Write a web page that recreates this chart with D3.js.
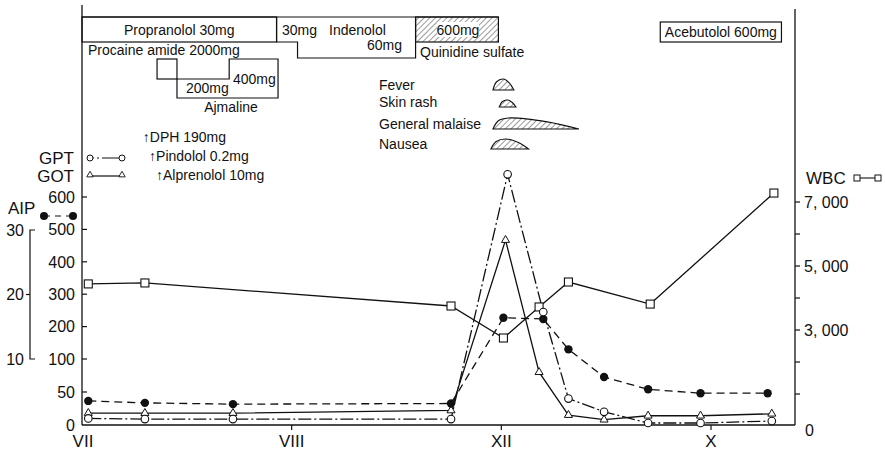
<!DOCTYPE html>
<html>
<head>
<meta charset="utf-8">
<script src="https://cdn.jsdelivr.net/npm/d3@7"></script>
<style>
    html, body { margin: 0; padding: 0; background: #fff; }
    #chart { width: 885px; height: 454px; }
    text { font-family: "Liberation Sans", Arial, sans-serif; fill: #111; }
    .num { font-family: "Liberation Sans Narrow", "Liberation Sans", Arial, sans-serif; }
</style>
</head>
<body>
<div id="chart"></div>
<script>
// x values are month positions: 0 = VII, 1 = VIII, 2 = XII, 3 = X
const monthLabels = ["VII", "VIII", "XII", "X"]
const leftTicks = [0, 50, 100, 200, 300, 400, 500, 600]
const aipTicks = [10, 20, 30]
const wbcTicks = [1000, 2000, 3000, 4000, 5000, 6000, 7000]
const wbcLabels = [[3000, "3, 000"], [5000, "5, 000"], [7000, "7, 000"]]

const gpt = [[0.03, 10], [0.30, 9], [0.72, 9], [1.76, 9], [2.03, 670], [2.20, 245],
             [2.32, 40], [2.49, 20], [2.70, 3], [2.95, 3], [3.29, 6]]
const got = [[0.03, 18], [0.30, 18], [0.72, 18], [1.76, 22], [2.02, 467], [2.18, 80],
             [2.32, 15], [2.49, 8], [2.70, 14], [2.95, 14], [3.29, 17]]
const aip = [[0.03, 3.5], [0.30, 3.2], [0.72, 3.0], [1.76, 3.1], [2.01, 16.4], [2.20, 16.2],
             [2.32, 11.5], [2.49, 7.2], [2.70, 5.3], [2.95, 4.7], [3.27, 4.7]]
const wbc = [[0.03, 4440], [0.30, 4470], [1.76, 3750], [2.01, 2750], [2.18, 3720],
             [2.32, 4500], [2.71, 3810], [3.30, 7280]]

// drug periods [start, end] in month positions
const propranolol = [0, 0.928]
const indenolol30 = [0.928, 1.028]
const indenolol60 = [1.028, 1.591]
const quinidine = [1.591, 1.986]
const ajmalineSmall = [0.358, 0.453]
const ajmaline200 = [0.453, 0.702]
const ajmaline400 = [0.702, 0.935]
const acebutolol = [2.758, 3.336]

// symptoms: name, start, end
const symptoms = [
    ["Fever", 1.96, 2.06],
    ["Skin rash", 1.99, 2.07],
    ["General malaise", 1.96, 2.37],
    ["Nausea", 1.95, 2.13]
]

const drugStarts = [["DPH 190mg", 0.29], ["Pindolol 0.2mg", 0.32], ["Alprenolol 10mg", 0.353]]

buildChart()

function buildChart() {
    let svg = d3.select("#chart")
                .append("svg")
                    .attr("width", 885)
                    .attr("height", 454)

    let scales = {
        x: d3.scaleLinear().domain([0, 3]).range([82, 711]),
        left: d3.scaleLinear().domain([0, 100, 600]).range([425, 359, 197]),
        aip: d3.scaleLinear().domain([10, 30]).range([359, 230]),
        wbc: d3.scaleLinear().domain([0, 7000]).range([426, 202])
    }
    let x = scales.x

    // hatch pattern
    svg.append("defs").append("pattern")
        .attr("id", "hatch")
        .attr("patternUnits", "userSpaceOnUse")
        .attr("width", 4).attr("height", 4)
        .attr("patternTransform", "rotate(45)")
      .append("line")
        .attr("x1", 0).attr("y1", 0).attr("x2", 0).attr("y2", 4)
        .attr("stroke", "#222").attr("stroke-width", 0.9)

    let ink = "#111"

    // frame: left, right, bottom axes
    svg.append("line").attr("x1", 82).attr("x2", 82).attr("y1", 5).attr("y2", 425)
        .attr("stroke", ink).attr("stroke-width", 1.3)
    svg.append("line").attr("x1", 795).attr("x2", 795).attr("y1", 9).attr("y2", 425)
        .attr("stroke", ink).attr("stroke-width", 1.3)
    svg.append("line").attr("x1", 82).attr("x2", 795).attr("y1", 425).attr("y2", 425)
        .attr("stroke", ink).attr("stroke-width", 1.3)

    // left axis
    let leftAxis = svg.append("g")
    leftTicks.forEach(t => {
        if (t > 0) {
            leftAxis.append("line").attr("x1", 82).attr("x2", 87)
                .attr("y1", scales.left(t)).attr("y2", scales.left(t))
                .attr("stroke", ink).attr("stroke-width", 1.2)
        }
        leftAxis.append("text").attr("class", "num")
            .attr("x", 75).attr("y", scales.left(t))
            .attr("dy", "0.36em").attr("text-anchor", "end")
            .attr("font-size", 16)
            .text(t)
    })

    // AIP bracket axis
    let aipAxis = svg.append("g")
    aipAxis.append("path")
        .attr("d", `M35,${scales.aip(30)} H30 V${scales.aip(10)} H35`)
        .attr("fill", "none").attr("stroke", ink).attr("stroke-width", 1.2)
    aipAxis.append("line").attr("x1", 26).attr("x2", 30)
        .attr("y1", scales.aip(20)).attr("y2", scales.aip(20))
        .attr("stroke", ink).attr("stroke-width", 1.2)
    aipTicks.forEach(t => {
        aipAxis.append("text").attr("class", "num")
            .attr("x", 24).attr("y", scales.aip(t))
            .attr("dy", "0.36em").attr("text-anchor", "end")
            .attr("font-size", 16)
            .text(t)
    })

    // right WBC axis
    let rightAxis = svg.append("g")
    wbcTicks.forEach(t => {
        rightAxis.append("line").attr("x1", 795).attr("x2", 800)
            .attr("y1", scales.wbc(t)).attr("y2", scales.wbc(t))
            .attr("stroke", ink).attr("stroke-width", 1.2)
    })
    wbcLabels.forEach(d => {
        rightAxis.append("text").attr("class", "num")
            .attr("x", 804).attr("y", scales.wbc(d[0]))
            .attr("dy", "0.36em").attr("font-size", 16)
            .text(d[1])
    })
    rightAxis.append("text").attr("class", "num")
        .attr("x", 805).attr("y", 430).attr("dy", "0.36em").attr("font-size", 16)
        .text("0")

    // bottom month axis
    monthLabels.forEach((m, i) => {
        if (i > 0) {
            svg.append("line").attr("x1", x(i)).attr("x2", x(i))
                .attr("y1", 425).attr("y2", 430)
                .attr("stroke", ink).attr("stroke-width", 1.2)
        }
        svg.append("text").attr("class", "num")
            .attr("x", x(i) + (i == 0 ? 1 : 0)).attr("y", 441)
            .attr("dy", "0.36em").attr("text-anchor", "middle")
            .attr("font-size", 17)
            .text(m)
    })

    // drug boxes
    let drugs = svg.append("g").attr("fill", "none").attr("stroke", ink).attr("stroke-width", 1.2)
    drugs.append("line").attr("x1", x(0)).attr("x2", x(quinidine[1])).attr("y1", 17).attr("y2", 17)
    drugs.append("rect").attr("x", x(propranolol[0])).attr("y", 17)
        .attr("width", x(propranolol[1]) - x(propranolol[0])).attr("height", 25)
    drugs.append("path")
        .attr("d", `M${x(indenolol30[0])},17 V42 H${x(indenolol30[1])} V58 H${x(indenolol60[1])} V17`)
    drugs.append("rect").attr("x", x(quinidine[0])).attr("y", 17)
        .attr("width", x(quinidine[1]) - x(quinidine[0])).attr("height", 25)
        .attr("fill", "url(#hatch)")
    drugs.append("rect").attr("x", x(ajmalineSmall[0])).attr("y", 59)
        .attr("width", x(ajmalineSmall[1]) - x(ajmalineSmall[0])).attr("height", 20)
    drugs.append("path")
        .attr("d", `M${x(ajmaline200[0])},79 H${x(ajmaline200[1])} V59 H${x(ajmaline400[1])} V98 H${x(ajmaline200[0])} Z`)
    drugs.append("rect").attr("x", x(acebutolol[0])).attr("y", 22)
        .attr("width", x(acebutolol[1]) - x(acebutolol[0])).attr("height", 20)

    // white patch behind 600mg text
    let qMid = (x(quinidine[0]) + x(quinidine[1])) / 2
    svg.append("rect").attr("x", qMid - 20).attr("y", 22).attr("width", 42).attr("height", 15)
        .attr("fill", "#fff")

    let label = (tx, ty, s, anchor, size) => svg.append("text")
        .attr("x", tx).attr("y", ty).attr("dy", "0.36em")
        .attr("text-anchor", anchor || "start")
        .attr("font-size", size || 14)
        .text(s)

    label((x(propranolol[0]) + x(propranolol[1])) / 2, 30, "Propranolol 30mg", "middle")
    label(282, 30, "30mg")
    label(329, 30, "Indenolol")
    label(367, 45, "60mg")
    label(qMid + 1, 30, "600mg", "middle")
    label(420, 52, "Quinidine sulfate")
    label(88, 50, "Procaine amide 2000mg")
    label(186, 88, "200mg")
    label(233, 79, "400mg")
    label(231, 107, "Ajmaline", "middle")
    label((x(acebutolol[0]) + x(acebutolol[1])) / 2, 32, "Acebutolol 600mg", "middle")

    drugStarts.forEach((d, i) => {
        let t = svg.append("text")
            .attr("x", x(d[1])).attr("y", 137 + 19 * i).attr("dy", "0.36em")
            .attr("font-size", 14)
        t.append("tspan").attr("font-weight", "bold").text("\u2191")
        t.append("tspan").text(d[0])
    })

    // symptoms
    let humpLine = d3.line().curve(d3.curveCatmullRom.alpha(0.5))
    let symptomBase = [90, 107, 129, 149]
    let symptomHeight = [11, 7, 11, 10]
    let symptomPeak = [0.5, 0.5, 0.18, 0.4]
    symptoms.forEach((s, i) => {
        label(379, symptomBase[i] - 5, s[0])
        let x0 = x(s[1]), x1 = x(s[2]), b = symptomBase[i], h = symptomHeight[i]
        let xp = x0 + (x1 - x0) * symptomPeak[i]
        let pts = [[x0, b], [x0 + (xp - x0) * 0.35, b - h * 0.75], [xp, b - h],
                   [xp + (x1 - xp) * 0.55, b - h * 0.65], [x1, b]]
        svg.append("path")
            .attr("d", humpLine(pts) + "Z")
            .attr("fill", "url(#hatch)")
            .attr("stroke", ink).attr("stroke-width", 1.1)
    })

    // series
    let lineGen = yScale => d3.line().x(d => x(d[0])).y(d => yScale(d[1]))
    let plot = svg.append("g").attr("fill", "none").attr("stroke", ink).attr("stroke-width", 1.3)
    plot.append("path").attr("d", lineGen(scales.wbc)(wbc))
    plot.append("path").attr("d", lineGen(scales.left)(got))
    plot.append("path").attr("d", lineGen(scales.left)(gpt)).attr("stroke-dasharray", "13,3,2,3")
    plot.append("path").attr("d", lineGen(scales.aip)(aip)).attr("stroke-dasharray", "8,5")

    // markers
    let triangle = d3.symbol().type(d3.symbolTriangle).size(28)
    svg.selectAll(".got").data(got).enter().append("path")
        .attr("class", "got")
        .attr("transform", d => `translate(${x(d[0])},${scales.left(d[1])})`)
        .attr("d", triangle)
        .attr("fill", "#fff").attr("stroke", ink).attr("stroke-width", 1)
    svg.selectAll(".wbc").data(wbc).enter().append("rect")
        .attr("class", "wbc")
        .attr("x", d => x(d[0]) - 4).attr("y", d => scales.wbc(d[1]) - 4)
        .attr("width", 8).attr("height", 8)
        .attr("fill", "#fff").attr("stroke", ink).attr("stroke-width", 1.1)
    svg.selectAll(".aip").data(aip).enter().append("circle")
        .attr("class", "aip")
        .attr("cx", d => x(d[0])).attr("cy", d => scales.aip(d[1]))
        .attr("r", 4.2).attr("fill", ink)
    svg.selectAll(".gpt").data(gpt).enter().append("circle")
        .attr("class", "gpt")
        .attr("cx", d => x(d[0])).attr("cy", d => scales.left(d[1]))
        .attr("r", 3.8).attr("fill", "#fff").attr("stroke", ink).attr("stroke-width", 1.1)

    // legends
    let legendText = (tx, ty, s, anchor) => svg.append("text")
        .attr("x", tx).attr("y", ty).attr("dy", "0.36em")
        .attr("text-anchor", anchor || "start").attr("font-size", 17)
        .text(s)

    legendText(74, 158, "GPT", "end")
    svg.append("line").attr("x1", 90).attr("x2", 122).attr("y1", 158).attr("y2", 158)
        .attr("stroke", ink).attr("stroke-width", 1.2).attr("stroke-dasharray", "4,3,2,3,20")
    svg.selectAll(".lg-gpt").data([90, 122]).enter().append("circle")
        .attr("cx", d => d).attr("cy", 158).attr("r", 3)
        .attr("fill", "#fff").attr("stroke", ink).attr("stroke-width", 1)

    legendText(74, 176, "GOT", "end")
    svg.append("line").attr("x1", 90).attr("x2", 122).attr("y1", 176).attr("y2", 176)
        .attr("stroke", ink).attr("stroke-width", 1.2)
    svg.selectAll(".lg-got").data([90, 122]).enter().append("path")
        .attr("transform", d => `translate(${d},175)`)
        .attr("d", d3.symbol().type(d3.symbolTriangle).size(18))
        .attr("fill", "#fff").attr("stroke", ink).attr("stroke-width", 0.9)

    legendText(8, 208, "AIP")
    svg.append("line").attr("x1", 44).attr("x2", 73).attr("y1", 216).attr("y2", 216)
        .attr("stroke", ink).attr("stroke-width", 1.2).attr("stroke-dasharray", "6,5")
    svg.selectAll(".lg-aip").data([44, 73]).enter().append("circle")
        .attr("cx", d => d).attr("cy", 216).attr("r", 4).attr("fill", ink)

    legendText(806, 178, "WBC")
    svg.append("line").attr("x1", 857).attr("x2", 878).attr("y1", 178).attr("y2", 178)
        .attr("stroke", ink).attr("stroke-width", 1.1)
    svg.selectAll(".lg-wbc").data([857, 878]).enter().append("rect")
        .attr("x", d => d - 3).attr("y", 175).attr("width", 6).attr("height", 6)
        .attr("fill", "#fff").attr("stroke", ink).attr("stroke-width", 1)
}
</script>
</body>
</html>
